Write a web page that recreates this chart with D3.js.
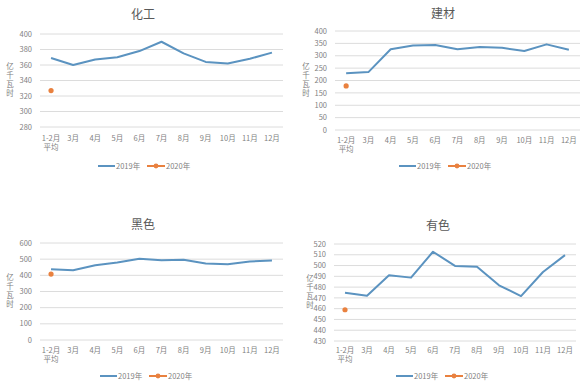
<!DOCTYPE html>
<html>
<head>
<meta charset="utf-8">
<script src="https://cdn.jsdelivr.net/npm/d3@7"></script>
<style>
  body { margin: 0; background: #fff; }
  svg { display: block; font-family: "Noto Sans CJK SC", "DejaVu Sans", sans-serif; }
</style>
</head>
<body>
<svg id="chart" width="583" height="383"></svg>
<script>
// categories shared by all four panels
const months = ["1-2月|平均", "3月", "4月", "5月", "6月", "7月", "8月", "9月", "10月", "11月", "12月"];
const seriesNames = ["2019年", "2020年"];

// 2019 monthly values, 2020 only has the Jan-Feb average
const chem2019 = [369, 360, 367, 370, 378, 390, 375, 364, 362, 368, 376];
const chem2020 = [327];
const build2019 = [229, 234, 326, 341, 343, 326, 335, 332, 319, 346, 324];
const build2020 = [178];
const ferrous2019 = [438, 432, 462, 479, 502, 493, 496, 473, 468, 486, 492];
const ferrous2020 = [408];
const nonferrous2019 = [474.8, 472, 491, 488.8, 512.8, 499.7, 498.8, 481.7, 471.7, 494, 509.7];
const nonferrous2020 = [459];

const titles = ["化工", "建材", "黑色", "有色"];
const yTicks = [
  [280, 300, 320, 340, 360, 380, 400],
  [0, 50, 100, 150, 200, 250, 300, 350, 400],
  [0, 100, 200, 300, 400, 500, 600],
  [430, 440, 450, 460, 470, 480, 490, 500, 510, 520]
];

const blue = "#5b93c0", orange = "#e9813f";
const svg = d3.select("#chart");

// layout of each panel on the page
const panels = [
  {title: titles[0], a: chem2019, b: chem2020, ticks: yTicks[0], l: 40, r: 283, t: 34, btm: 127, tx: 143, ty: 15, xl: 138, lg: 166, yt: 10, lx: 98},
  {title: titles[1], a: build2019, b: build2020, ticks: yTicks[1], l: 335, r: 580, t: 31, btm: 130, tx: 443, ty: 14, xl: 140, lg: 166, yt: 306, lx: 399},
  {title: titles[2], a: ferrous2019, b: ferrous2020, ticks: yTicks[2], l: 40, r: 283, t: 243, btm: 340, tx: 143, ty: 225, xl: 350, lg: 376, yt: 10, lx: 100},
  {title: titles[3], a: nonferrous2019, b: nonferrous2020, ticks: yTicks[3], l: 334, r: 576, t: 244, btm: 341, tx: 438, ty: 226, xl: 350, lg: 376, yt: 310, lx: 396}
];

function drawPanel(p) {
  const g = svg.append("g");
  const x = d3.scalePoint().domain(months).range([p.l, p.r]).padding(0.5);
  const y = d3.scaleLinear()
    .domain([p.ticks[0], p.ticks[p.ticks.length - 1]])
    .range([p.btm, p.t]);

  // gridlines
  g.selectAll("line.grid").data(p.ticks).join("line")
    .attr("x1", p.l).attr("x2", p.r)
    .attr("y1", d => y(d)).attr("y2", d => y(d))
    .attr("stroke", "#dcdcdc").attr("stroke-width", 1);

  // y tick labels
  g.selectAll("text.yt").data(p.ticks).join("text")
    .attr("x", p.l - 8).attr("y", d => y(d))
    .attr("dy", "0.35em").attr("text-anchor", "end")
    .attr("font-size", 7.5).attr("fill", "#7f7f7f")
    .text(d => d);

  // x labels, first one wraps onto two lines
  const xl = g.selectAll("text.xt").data(months).join("text")
    .attr("x", d => x(d)).attr("y", p.xl)
    .attr("dy", "0.35em").attr("text-anchor", "middle")
    .attr("font-size", 7.5).attr("fill", "#7f7f7f");
  xl.each(function(d) {
    const parts = d.split("|");
    const t = d3.select(this);
    parts.forEach((s, i) => {
      t.append("tspan").attr("x", x(d)).attr("dy", i === 0 ? "0.35em" : "1.3em").text(s);
    });
  });

  // title
  g.append("text").attr("x", p.tx).attr("y", p.ty)
    .attr("dy", "0.35em").attr("text-anchor", "middle")
    .attr("font-size", 12).attr("fill", "#595959").text(p.title);

  // y axis title, written vertically with upright characters
  const mid = (p.t + p.btm) / 2;
  g.append("text").attr("x", p.yt).attr("y", mid)
    .attr("text-anchor", "middle")
    .style("writing-mode", "vertical-rl")
    .style("text-orientation", "upright")
    .style("letter-spacing", "1.5px")
    .attr("font-size", 7.5).attr("fill", "#7f7f7f").text("亿千瓦时");

  // 2019 line
  const line = d3.line().x((d, i) => x(months[i])).y(d => y(d));
  g.append("path").datum(p.a).attr("d", line)
    .attr("fill", "none").attr("stroke", blue).attr("stroke-width", 2)
    .attr("stroke-linejoin", "round");

  // 2020 point
  g.selectAll("circle.pt").data(p.b).join("circle")
    .attr("cx", (d, i) => x(months[i])).attr("cy", d => y(d))
    .attr("r", 2.6).attr("fill", orange);

  // legend
  const lg = g.append("g").attr("font-size", 7.5).attr("fill", "#7f7f7f");
  lg.append("line").attr("x1", p.lx).attr("x2", p.lx + 17)
    .attr("y1", p.lg).attr("y2", p.lg).attr("stroke", blue).attr("stroke-width", 2);
  lg.append("text").attr("x", p.lx + 18).attr("y", p.lg).attr("dy", "0.35em").text(seriesNames[0]);
  lg.append("line").attr("x1", p.lx + 49).attr("x2", p.lx + 67)
    .attr("y1", p.lg).attr("y2", p.lg).attr("stroke", orange).attr("stroke-width", 2);
  lg.append("circle").attr("cx", p.lx + 58).attr("cy", p.lg).attr("r", 2.4).attr("fill", orange);
  lg.append("text").attr("x", p.lx + 68).attr("y", p.lg).attr("dy", "0.35em").text(seriesNames[1]);
}

panels.forEach(drawPanel);
</script>
</body>
</html>
